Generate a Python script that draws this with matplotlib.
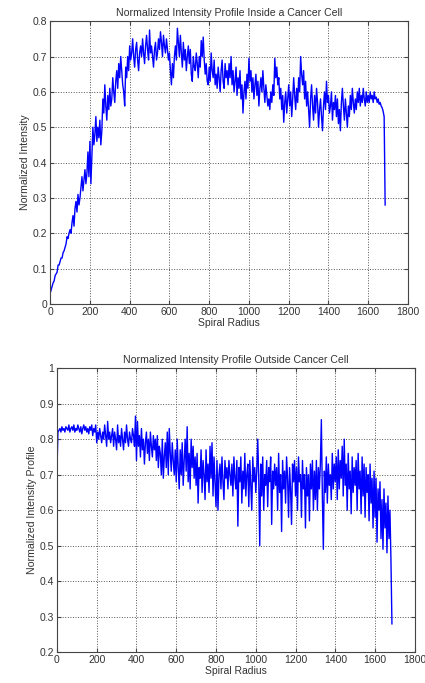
import matplotlib
matplotlib.use("Agg")
import matplotlib.pyplot as plt
import numpy as np

plt.rcParams['font.family'] = ['Liberation Sans', 'DejaVu Sans']

# sampling step of the spiral radius (values every 5 units)
step = 5

inside = [
    0.03, 0.04, 0.05, 0.06, 0.065, 0.08, 0.085, 0.09, 0.11, 0.11, 0.12, 0.13, 0.13, 0.145, 0.15, 0.16, 0.17, 0.19, 0.185, 0.20,
    0.21, 0.20, 0.23, 0.25, 0.22, 0.27, 0.29, 0.26, 0.31, 0.28, 0.30, 0.33, 0.36, 0.32, 0.35, 0.38, 0.34, 0.37, 0.43, 0.36,
    0.46, 0.34, 0.42, 0.50, 0.45, 0.48, 0.53, 0.46, 0.50, 0.47, 0.52, 0.45, 0.49, 0.58, 0.54, 0.62, 0.56, 0.52, 0.59, 0.55,
    0.61, 0.56, 0.58, 0.64, 0.60, 0.57, 0.63, 0.66, 0.61, 0.68, 0.64, 0.70, 0.66, 0.62, 0.60, 0.56, 0.67, 0.64, 0.70, 0.66,
    0.73, 0.69, 0.71, 0.75, 0.70, 0.67, 0.72, 0.74, 0.69, 0.66, 0.71, 0.73, 0.70, 0.75, 0.71, 0.68, 0.73, 0.76, 0.72, 0.69,
    0.775, 0.71, 0.73, 0.70, 0.67, 0.72, 0.74, 0.69, 0.71, 0.75, 0.72, 0.77, 0.74, 0.70, 0.76, 0.73, 0.71, 0.75, 0.72, 0.69,
    0.71, 0.66, 0.62, 0.68, 0.64, 0.70, 0.73, 0.69, 0.78, 0.74, 0.70, 0.76, 0.71, 0.67, 0.74, 0.69, 0.72, 0.66, 0.70, 0.73,
    0.68, 0.72, 0.65, 0.63, 0.70, 0.67, 0.66, 0.71, 0.68, 0.64, 0.70, 0.67, 0.745, 0.70, 0.755, 0.69, 0.65, 0.68, 0.63, 0.62,
    0.67, 0.63, 0.71, 0.66, 0.64, 0.69, 0.62, 0.65, 0.61, 0.67, 0.64, 0.60, 0.66, 0.69, 0.63, 0.61, 0.68, 0.64, 0.66, 0.62,
    0.68, 0.64, 0.70, 0.62, 0.66, 0.60, 0.63, 0.67, 0.59, 0.64, 0.61, 0.66, 0.58, 0.62, 0.54, 0.60, 0.63, 0.58, 0.65, 0.61,
    0.695, 0.63, 0.66, 0.60, 0.64, 0.58, 0.62, 0.65, 0.59, 0.63, 0.56, 0.61, 0.64, 0.60, 0.66, 0.61, 0.57, 0.62, 0.59, 0.56,
    0.58, 0.55, 0.60, 0.57, 0.62, 0.59, 0.695, 0.64, 0.67, 0.62, 0.64, 0.58, 0.61, 0.55, 0.59, 0.514, 0.57, 0.60, 0.54, 0.58,
    0.62, 0.56, 0.60, 0.53, 0.58, 0.64, 0.59, 0.55, 0.61, 0.57, 0.64, 0.60, 0.70, 0.65, 0.62, 0.66, 0.58, 0.63, 0.56, 0.60,
    0.55, 0.50, 0.58, 0.62, 0.56, 0.52, 0.59, 0.54, 0.61, 0.57, 0.50, 0.55, 0.58, 0.53, 0.49, 0.56, 0.60, 0.55, 0.63, 0.57,
    0.59, 0.54, 0.56, 0.60, 0.52, 0.57, 0.55, 0.59, 0.53, 0.58, 0.51, 0.55, 0.49, 0.57, 0.61, 0.56, 0.52, 0.58, 0.54, 0.50,
    0.56, 0.53, 0.59, 0.55, 0.61, 0.57, 0.54, 0.58, 0.55, 0.60, 0.57, 0.61, 0.56, 0.59, 0.57, 0.61, 0.58, 0.56, 0.60, 0.57,
    0.59, 0.57, 0.60, 0.58, 0.59, 0.57, 0.60, 0.58, 0.585, 0.57, 0.58, 0.565, 0.57, 0.56, 0.555, 0.545, 0.53,
    0.28,
]

outside = [
    0.71, 0.82, 0.825, 0.83, 0.82, 0.835, 0.825, 0.83, 0.82, 0.835, 0.83, 0.825, 0.84, 0.82, 0.83, 0.835, 0.825, 0.84, 0.82, 0.83,
    0.825, 0.84, 0.83, 0.82, 0.835, 0.815, 0.83, 0.84, 0.825, 0.835, 0.82, 0.83, 0.815, 0.835, 0.825, 0.84, 0.81, 0.83, 0.82, 0.84,
    0.79, 0.82, 0.80, 0.83, 0.81, 0.79, 0.82, 0.80, 0.84, 0.81, 0.78, 0.85, 0.80, 0.82, 0.79, 0.81, 0.83, 0.78, 0.82, 0.80,
    0.77, 0.84, 0.79, 0.81, 0.78, 0.83, 0.80, 0.77, 0.82, 0.79, 0.84, 0.80, 0.78, 0.82, 0.80, 0.79, 0.83, 0.81, 0.78, 0.865,
    0.74, 0.85, 0.78, 0.81, 0.75, 0.83, 0.77, 0.80, 0.73, 0.79, 0.82, 0.76, 0.80, 0.74, 0.82, 0.78, 0.75, 0.81, 0.77, 0.80,
    0.74, 0.81, 0.72, 0.78, 0.76, 0.70, 0.80, 0.69, 0.75, 0.79, 0.72, 0.82, 0.70, 0.83, 0.76, 0.71, 0.79, 0.74, 0.70, 0.77,
    0.68, 0.80, 0.72, 0.66, 0.77, 0.70, 0.79, 0.67, 0.74, 0.80, 0.71, 0.835, 0.68, 0.76, 0.66, 0.80, 0.72, 0.78, 0.69, 0.75,
    0.67, 0.76, 0.62, 0.72, 0.69, 0.77, 0.65, 0.74, 0.70, 0.63, 0.77, 0.68, 0.73, 0.65, 0.78, 0.69, 0.79, 0.64, 0.75, 0.68,
    0.61, 0.74, 0.60, 0.70, 0.73, 0.66, 0.75, 0.68, 0.63, 0.74, 0.69, 0.72, 0.66, 0.74, 0.70, 0.67, 0.73, 0.64, 0.75, 0.69,
    0.66, 0.74, 0.555, 0.72, 0.68, 0.75, 0.62, 0.71, 0.66, 0.76, 0.64, 0.70, 0.73, 0.61, 0.74, 0.67, 0.60, 0.75, 0.68, 0.72,
    0.65, 0.71, 0.80, 0.69, 0.50, 0.73, 0.64, 0.75, 0.60, 0.70, 0.67, 0.74, 0.61, 0.72, 0.68, 0.75, 0.56, 0.71, 0.66, 0.73,
    0.67, 0.72, 0.60, 0.76, 0.65, 0.70, 0.54, 0.74, 0.66, 0.71, 0.62, 0.75, 0.69, 0.58, 0.72, 0.66, 0.56, 0.73, 0.68, 0.74,
    0.64, 0.72, 0.60, 0.75, 0.68, 0.70, 0.58, 0.74, 0.66, 0.70, 0.55, 0.72, 0.64, 0.70, 0.57, 0.73, 0.66, 0.74, 0.60, 0.71,
    0.63, 0.74, 0.60, 0.72, 0.66, 0.73, 0.855, 0.64, 0.49, 0.71, 0.65, 0.75, 0.62, 0.73, 0.67, 0.70, 0.63, 0.76, 0.66, 0.73,
    0.68, 0.75, 0.63, 0.77, 0.66, 0.74, 0.69, 0.78, 0.64, 0.80, 0.67, 0.73, 0.60, 0.76, 0.66, 0.71, 0.59, 0.75, 0.65, 0.72,
    0.67, 0.74, 0.60, 0.76, 0.66, 0.71, 0.59, 0.75, 0.64, 0.73, 0.58, 0.72, 0.65, 0.70, 0.57, 0.73, 0.62, 0.69, 0.55, 0.71,
    0.58, 0.69, 0.51, 0.66, 0.60, 0.68, 0.52, 0.63, 0.49, 0.66, 0.55, 0.62, 0.48, 0.64, 0.52, 0.60, 0.46,
    0.28,
]

x_ticks = [0, 200, 400, 600, 800, 1000, 1200, 1400, 1600, 1800]
top_yticks = [0, 0.1, 0.2, 0.3, 0.4, 0.5, 0.6, 0.7, 0.8]
top_ylabels = ['0', '0.1', '0.2', '0.3', '0.4', '0.5', '0.6', '0.7', '0.8']
bot_yticks = [0.2, 0.3, 0.4, 0.5, 0.6, 0.7, 0.8, 0.9, 1.0]
bot_ylabels = ['0.2', '0.3', '0.4', '0.5', '0.6', '0.7', '0.8', '0.9', '1']

text_col = '#333333'


def style_axes(ax, yticks, ylabels, title, ylabel):
    ax.set_xlim(0, 1800)
    ax.set_xticks(x_ticks)
    ax.set_xticklabels([str(t) for t in x_ticks])
    ax.set_ylim(yticks[0], yticks[-1])
    ax.set_yticks(yticks)
    ax.set_yticklabels(ylabels)
    ax.grid(True, linestyle=':', color='#555555', linewidth=0.7)
    ax.tick_params(direction='in', top=True, right=True, length=3,
                   labelsize=7.5, labelcolor=text_col, color='#444444', pad=2)
    for s in ax.spines.values():
        s.set_color('#444444')
        s.set_linewidth(0.8)
    ax.set_title(title, fontsize=7.6, color=text_col, pad=4)
    ax.set_xlabel('Spiral Radius', fontsize=7.5, color=text_col, labelpad=1)
    ax.set_ylabel(ylabel, fontsize=7.6, color=text_col, labelpad=2)


fig = plt.figure(figsize=(4.25, 6.83), dpi=100)

ax1 = fig.add_axes([0.118, 0.555, 0.842, 0.414])
ax1.plot(np.arange(len(inside)) * step, inside, color='#0000ff', linewidth=1.0)
style_axes(ax1, top_yticks, top_ylabels,
           'Normalized Intensity Profile Inside a Cancer Cell', 'Normalized Intensity')

ax2 = fig.add_axes([0.134, 0.045, 0.842, 0.416])
ax2.plot(np.arange(len(outside)) * step, outside, color='#0000ff', linewidth=1.0)
style_axes(ax2, bot_yticks, bot_ylabels,
           'Normalized Intensity Profile Outside Cancer Cell', 'Normalized Intensity Profile')

fig.savefig('out.png', dpi=100)
